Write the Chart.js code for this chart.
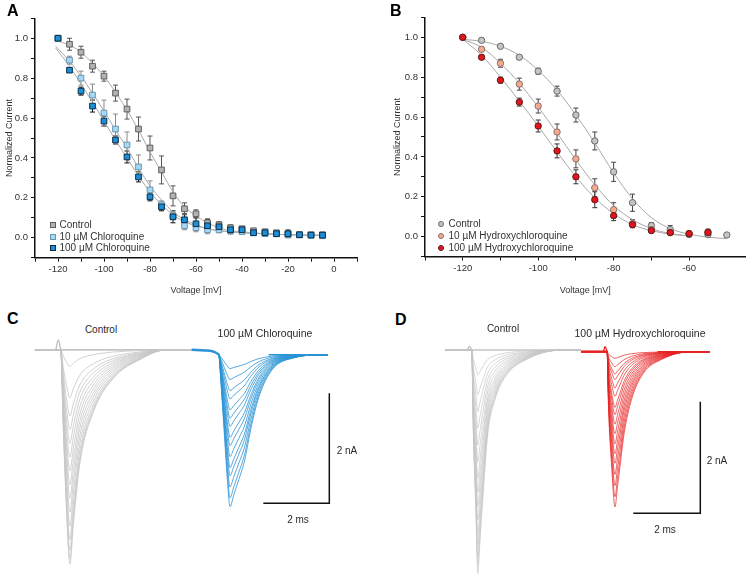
<!DOCTYPE html>
<html><head><meta charset="utf-8">
<script src="https://cdn.jsdelivr.net/npm/chart.js@4.4.0/dist/chart.umd.min.js"></script>
<style>
body{margin:0;width:753px;height:584px;position:relative;background:#fff;font-family:"Liberation Sans",Arial,sans-serif;overflow:hidden}
canvas{position:absolute}
.lbl{position:absolute;font-weight:bold;font-size:16px;color:#000;line-height:1}
.t{position:absolute;color:#2a2a2a;white-space:nowrap;line-height:1;transform:translate(-50%,-50%)}
.leg{position:absolute;font-size:10px;color:#333;white-space:nowrap;line-height:1;transform:translateY(-50%)}
.mk{position:absolute;box-sizing:border-box;transform:translate(-50%,-50%)}
</style></head>
<body>
<canvas id="cA" width="370" height="300" style="left:0;top:0;width:370px;height:300px"></canvas>
<canvas id="cB" width="378" height="300" style="left:375px;top:0;width:378px;height:300px"></canvas>
<canvas id="cC" width="320" height="240" style="left:30px;top:335px;width:320px;height:240px"></canvas>
<canvas id="cD" width="305" height="245" style="left:440px;top:335px;width:305px;height:245px"></canvas>

<div class="lbl" style="left:7px;top:3px">A</div>
<div class="lbl" style="left:390px;top:3px">B</div>
<div class="lbl" style="left:7px;top:311px">C</div>
<div class="lbl" style="left:395px;top:312px">D</div>

<div class="mk" style="left:53px;top:225px;width:6px;height:6px;background:#b3b3b3;border:1px solid #5e5e5e"></div>
<div class="leg" style="left:59.5px;top:225px">Control</div>
<div class="mk" style="left:53px;top:236.5px;width:6px;height:6px;background:#a6d9f5;border:1px solid #6a95b0"></div>
<div class="leg" style="left:59.5px;top:236.5px">10 µM Chloroquine</div>
<div class="mk" style="left:53px;top:248px;width:6px;height:6px;background:#1b8fd8;border:1px solid #0c2c44"></div>
<div class="leg" style="left:59.5px;top:248px">100 µM Chloroquine</div>

<div class="mk" style="left:440.7px;top:223.7px;width:6px;height:6px;border-radius:50%;background:#c4c4c4;border:1px solid #6b6b6b"></div>
<div class="leg" style="left:448.5px;top:223.7px">Control</div>
<div class="mk" style="left:440.7px;top:236px;width:6px;height:6px;border-radius:50%;background:#f5a98e;border:1px solid #8a7068"></div>
<div class="leg" style="left:448.5px;top:236px">10 µM Hydroxychloroquine</div>
<div class="mk" style="left:440.7px;top:247.7px;width:6px;height:6px;border-radius:50%;background:#e5131b;border:1px solid #5a1a1a"></div>
<div class="leg" style="left:448.5px;top:247.7px">100 µM Hydroxychloroquine</div>

<div class="t" style="left:101px;top:330px;font-size:10px">Control</div>
<div class="t" style="left:265px;top:333px;font-size:10.5px">100 µM Chloroquine</div>
<div class="t" style="left:347px;top:451px;font-size:10px">2 nA</div>
<div class="t" style="left:298px;top:520px;font-size:10px">2 ms</div>
<div class="t" style="left:503px;top:329px;font-size:10px">Control</div>
<div class="t" style="left:640px;top:333px;font-size:10.5px">100 µM Hydroxychloroquine</div>
<div class="t" style="left:717px;top:461px;font-size:10px">2 nA</div>
<div class="t" style="left:665px;top:530px;font-size:10px">2 ms</div>

<script>
// ---------- Panel A data (Voltage mV, normalized current) ----------
const voltA = [-120,-115,-110,-105,-100,-95,-90,-85,-80,-75,-70,-65,-60,-55,-50,-45,-40,-35,-30,-25,-20,-15,-10,-5];
const ctrlA = [1.0,0.97,0.93,0.86,0.81,0.725,0.645,0.545,0.45,0.34,0.21,0.145,0.12,0.075,0.065,0.05,0.045,0.035,0.03,0.025,0.02,0.015,0.015,0.015];
const ctrlAErr = [0,0.03,0.03,0.03,0.025,0.04,0.05,0.06,0.06,0.07,0.05,0.03,0.02,0.02,0.015,0.015,0.012,0.01,0.01,0.01,0.02,0.01,0.01,0.01];
const cq10A = [1.0,0.89,0.80,0.715,0.625,0.545,0.465,0.355,0.24,0.165,0.11,0.06,0.05,0.04,0.04,0.035,0.03,0.025,0.02,0.02,0.015,0.015,0.013,0.01];
const cq10AErr = [0,0.02,0.035,0.055,0.065,0.075,0.065,0.06,0.045,0.02,0.02,0.02,0.02,0.02,0.015,0.015,0.01,0.01,0.01,0.01,0.01,0.01,0.01,0.01];
const cq100A = [1.0,0.84,0.735,0.66,0.585,0.49,0.405,0.305,0.205,0.155,0.105,0.09,0.07,0.06,0.055,0.04,0.04,0.025,0.025,0.02,0.02,0.015,0.013,0.013];
const cq100AErr = [0,0.01,0.02,0.03,0.025,0.02,0.03,0.025,0.02,0.02,0.03,0.03,0.03,0.03,0.02,0.02,0.01,0.01,0.01,0.01,0.01,0.01,0.01,0.01];
const fitVoltA = [-121,-115,-110,-105,-100,-95,-90,-85,-80,-75,-70,-65,-60,-55,-50,-45,-40,-30,-20,-5];
const fitCtrlA = [0.99,0.965,0.93,0.875,0.81,0.73,0.64,0.54,0.43,0.33,0.23,0.155,0.11,0.075,0.05,0.035,0.03,0.02,0.015,0.012];
const fitCq10A = [0.96,0.885,0.81,0.725,0.635,0.54,0.45,0.35,0.26,0.19,0.13,0.09,0.065,0.045,0.035,0.03,0.025,0.02,0.015,0.012];
const fitCq100A = [0.95,0.86,0.77,0.68,0.585,0.49,0.40,0.31,0.23,0.165,0.115,0.08,0.06,0.045,0.035,0.03,0.025,0.02,0.015,0.012];

// ---------- Panel B data ----------
const voltB = [-120,-115,-110,-105,-100,-95,-90,-85,-80,-75,-70,-65,-60,-55,-50];
const ctrlB = [1.0,0.985,0.955,0.90,0.83,0.73,0.61,0.48,0.325,0.17,0.055,0.035,0.01,0.01,0.008];
const ctrlBErr = [0,0.005,0.008,0.01,0.015,0.025,0.035,0.045,0.048,0.043,0.015,0.02,0.01,0.01,0];
const hcq10B = [1.0,0.94,0.87,0.765,0.655,0.525,0.39,0.245,0.135,0.065,0.035,0.02,0.015,0.025];
const hcq10BErr = [0,0.005,0.02,0.03,0.035,0.04,0.045,0.045,0.035,0.02,0.01,0.01,0.005,0.01];
const hcq100B = [1.0,0.90,0.785,0.675,0.555,0.43,0.30,0.185,0.105,0.06,0.03,0.02,0.015,0.02];
const hcq100BErr = [0,0.008,0.015,0.02,0.03,0.035,0.035,0.04,0.025,0.015,0.01,0.01,0.005,0.015];
const fitVoltB = [-120,-115,-110,-105,-100,-95,-90,-85,-80,-75,-70,-65,-60,-55,-50];
const fitCtrlB = [0.99,0.98,0.955,0.91,0.835,0.735,0.61,0.47,0.32,0.19,0.095,0.04,0.012,-0.003,-0.01];
const fitHcq10B = [0.99,0.95,0.87,0.77,0.65,0.52,0.385,0.26,0.155,0.085,0.04,0.015,0.003];
const fitHcq100B = [0.99,0.91,0.80,0.68,0.555,0.425,0.30,0.195,0.115,0.06,0.03,0.012,0.003];

// ---------- Panel C traces (ms, nA) ----------
const ctrlCAmp = [0.3,0.87,1.2,1.45,1.7,1.95,2.2,2.45,2.7,2.95,3.2,3.45,3.65,3.8,3.9];
const ctrlCShapeT = [0,0.08,0.18,0.28,0.38,0.58,0.99,1.58,2.4,3.2];
const ctrlCShape = [0,0.37,0.76,1.0,0.82,0.53,0.29,0.135,0.045,0];
const cqCAmp = [0.25,0.45,0.65,0.8,1.0,1.15,1.3,1.5,1.65,1.85,2.05,2.2,2.4,2.6,2.76];
const cqCShapeT = [0,0.05,0.15,0.25,0.33,0.45,0.6,0.77,0.96,1.21,1.6,2.27,3.2];
const cqCShape = [0,0.16,0.49,0.82,1.0,0.92,0.82,0.7,0.49,0.275,0.1,0.02,0];
const cTimes = {ctrlStart:0.15, ctrlOnset:0.93, ctrlEnd:4.9, cqOnset:5.73, cqEnd:9.03};
const cBase = {ctrl:0, cq:-0.09};

// ---------- Panel D traces (ms, nA) ----------
const ctrlDAmp = [0.45,0.8,1.1,1.4,1.7,2.0,2.3,2.55,2.8,3.05,3.3,3.5,3.7,3.85,4.0];
const ctrlDShapeT = [0,0.05,0.13,0.18,0.25,0.33,0.48,0.7,1.0,1.6,2.7];
const ctrlDShape = [0,0.375,0.75,1.0,0.85,0.67,0.375,0.22,0.12,0.045,0];
const hcqDAmp = [0.12,0.27,0.4,0.5,0.65,0.8,1.0,1.13,1.3,1.47,1.65,1.83,2.0,2.2,2.4,2.6,2.78];
const hcqDShapeT = [0,0.03,0.13,0.23,0.3,0.38,0.5,0.72,1.07,1.62,2.5];
const hcqDShape = [0,0.31,0.74,1.0,0.88,0.74,0.53,0.31,0.14,0.05,0];
const dTimes = {ctrlStart:0.149, ctrlOnset:0.946, ctrlEnd:4.209, hcqOnset:4.994, hcqEnd:8.06};
const dBase = {ctrl:0, hcq:-0.03};

const scaleBarMs = 2, scaleBarNA = 2;

// ---------- helpers ----------
const pts = (xs, ys) => ys.map((y, i) => ({x: xs[i], y}));
function trace(start, onset, end, base, amp, shapeT, shape) {
  const d = [];
  if (start < onset) d.push({x:start, y:base});
  shapeT.forEach((t, i) => d.push({x: onset + t, y: base - amp * shape[i]}));
  if (end > d[d.length-1].x) d.push({x:end, y:base});
  return d;
}

const errorBars = {
  id: 'errorBars',
  beforeDatasetsDraw(chart) {
    const {ctx} = chart, x = chart.scales.x, y = chart.scales.y;
    chart.data.datasets.forEach(ds => {
      if (!ds.errors) return;
      ctx.save();
      ctx.strokeStyle = ds.errorColor; ctx.lineWidth = 1;
      ds.data.forEach((p, j) => {
        const e = ds.errors[j]; if (!e) return;
        const px = x.getPixelForValue(p.x), y1 = y.getPixelForValue(p.y - e), y2 = y.getPixelForValue(p.y + e);
        ctx.beginPath();
        ctx.moveTo(px, y1); ctx.lineTo(px, y2);
        ctx.moveTo(px - 2.5, y1); ctx.lineTo(px + 2.5, y1);
        ctx.moveTo(px - 2.5, y2); ctx.lineTo(px + 2.5, y2);
        ctx.stroke();
      });
      ctx.restore();
    });
  }
};

const tickFont = {family:'"Liberation Sans", Arial, sans-serif', size:9.5};
const titleFont = {family:'"Liberation Sans", Arial, sans-serif', size:9};
function filterStep(step) {
  return s => { s.ticks = s.ticks.filter(t => Math.abs(t.value/step - Math.round(t.value/step)) < 1e-6); };
}
function ivChart(id, xmin, xmax, datasets, yWidth, xHeight, pad, yTitlePad) {
  new Chart(document.getElementById(id), {
    type: 'scatter',
    data: {datasets},
    options: {
      responsive:false, animation:false, events:[],
      layout:{padding:pad},
      plugins:{legend:{display:false}, tooltip:{enabled:false}},
      scales:{
        x:{type:'linear', min:xmin, max:xmax,
          afterBuildTicks: filterStep(10),
          afterFit: s => { s.height = xHeight; },
          ticks:{stepSize:10, autoSkip:false, maxRotation:0, padding:2, color:'#333', font:tickFont,
            callback: v => (Math.round(v) % 20 === 0 ? String(Math.round(v)) : '')},
          grid:{drawOnChartArea:false, drawTicks:true, tickLength:4, tickColor:'#111', tickWidth:1},
          border:{display:true, color:'#111', width:1.5},
          title:{display:true, text:'Voltage [mV]', color:'#333', font:titleFont, padding:{top:4,bottom:4}}},
        y:{type:'linear', min:-0.1, max:1.1,
          afterBuildTicks: filterStep(0.1),
          afterFit: s => { s.width = yWidth; },
          ticks:{stepSize:0.1, autoSkip:false, padding:3, color:'#333', font:tickFont,
            callback: v => { const k = Math.round(v*10); return k % 2 === 0 ? (k/10).toFixed(1) : ''; }},
          grid:{drawOnChartArea:false, drawTicks:true, tickLength:4, tickColor:'#111', tickWidth:1},
          border:{display:true, color:'#111', width:1.5},
          title:{display:true, text:'Normalized Current', color:'#333', font:titleFont, padding:{top:yTitlePad,bottom:4}}}
      }
    },
    plugins:[errorBars]
  });
}
function markers(data, errors, style, fill, border, errColor, r) {
  return {data, errors, errorColor:errColor, pointStyle:style, pointRadius:r, pointBackgroundColor:fill,
    pointBorderColor:border, pointBorderWidth:1, showLine:false, clip:false};
}
function fit(data) {
  return {data, showLine:true, pointRadius:0, borderColor:'#a8a8a8', borderWidth:1,
    cubicInterpolationMode:'monotone', clip:false};
}

// Panel A
ivChart('cA', -130, 10, [
  markers(pts(voltA, cq100A), cq100AErr, 'rect', '#1b8fd8', '#0c2c44', '#111', 4),
  markers(pts(voltA, cq10A), cq10AErr, 'rect', '#a6d9f5', '#6a95b0', '#8a8a8a', 4),
  markers(pts(voltA, ctrlA), ctrlAErr, 'rect', '#b3b3b3', '#5e5e5e', '#555', 4),
  fit(pts(fitVoltA, fitCtrlA)), fit(pts(fitVoltA, fitCq10A)), fit(pts(fitVoltA, fitCq100A))
], 35, 42.3, {top:18.3, right:13, left:0, bottom:0}, 4);

// Panel B
ivChart('cB', -130, -45, [
  markers(pts(voltB, hcq100B), hcq100BErr, 'circle', '#e5131b', '#5a1a1a', '#333', 3.2),
  markers(pts(voltB, hcq10B), hcq10BErr, 'circle', '#f5a98e', '#8a7068', '#444', 3.2),
  markers(pts(voltB, ctrlB), ctrlBErr, 'circle', '#c4c4c4', '#6b6b6b', '#444', 3.2),
  fit(pts(fitVoltB, fitCtrlB)), fit(pts(fitVoltB, fitHcq10B)), fit(pts(fitVoltB, fitHcq100B))
], 50, 43.5, {top:17.4, right:7.3, left:0, bottom:0}, 17.6);

// Trace charts
function line(data, color, width) {
  return {data, showLine:true, pointRadius:0, borderColor:color, borderWidth:width,
    cubicInterpolationMode:'monotone', clip:false};
}
function traceChart(id, xmax, ymin, ymax, datasets) {
  new Chart(document.getElementById(id), {
    type:'scatter', data:{datasets},
    options:{responsive:false, animation:false, events:[], layout:{padding:0},
      plugins:{legend:{display:false}, tooltip:{enabled:false}},
      scales:{x:{type:'linear', display:false, min:0, max:xmax}, y:{display:false, min:ymin, max:ymax}}}
  });
}

// Panel C
{
  const ds = [];
  const sbX = 7.07, sbY = -2.79;
  ds.push(line([{x:sbX, y:sbY}, {x:sbX+scaleBarMs, y:sbY}, {x:sbX+scaleBarMs, y:sbY+scaleBarNA}], '#111', 1.5));
  ds.push(line([{x:cTimes.ctrlEnd, y:cBase.ctrl}, {x:5.3, y:-0.01}, {x:5.6, y:-0.04}, {x:cTimes.cqOnset, y:cBase.cq}], '#2a93d5', 2.5));
  ds.push(line([{x:cTimes.cqOnset+1.5, y:cBase.cq}, {x:cTimes.cqEnd, y:cBase.cq}], '#2a93d5', 1.5));
  cqCAmp.forEach(a => ds.push(line(trace(cTimes.cqOnset, cTimes.cqOnset, cTimes.cqEnd, cBase.cq, a, cqCShapeT, cqCShape), '#2a93d5', 0.8)));
  ds.push(line([{x:0.78, y:0}, {x:0.86, y:0.18}, {x:cTimes.ctrlOnset, y:0}], '#bdbdbd', 1.3));
  ds.push(line([{x:cTimes.ctrlStart, y:0}, {x:cTimes.ctrlEnd, y:0}], '#c4c4c4', 1.6));
  ctrlCAmp.forEach(a => ds.push(line(trace(cTimes.ctrlStart, cTimes.ctrlOnset, cTimes.ctrlEnd, cBase.ctrl, a, ctrlCShapeT, ctrlCShape), '#c6c6c6', 0.8)));
  traceChart('cC', 320/33, 0.27 - 240/55, 0.27, ds);
}

// Panel D
{
  const ds = [];
  const sbX = 5.77, sbY = -2.926;
  ds.push(line([{x:sbX, y:sbY}, {x:sbX+scaleBarMs, y:sbY}, {x:sbX+scaleBarMs, y:sbY+scaleBarNA}], '#111', 1.5));
  ds.push(line([{x:dTimes.ctrlEnd, y:dBase.hcq}, {x:dTimes.hcqOnset, y:dBase.hcq}], '#e8201f', 2.5));
  ds.push(line([{x:4.88, y:dBase.hcq}, {x:4.925, y:0.06}, {x:dTimes.hcqOnset, y:dBase.hcq}], '#e8201f', 1.3));
  ds.push(line([{x:dTimes.hcqOnset+1.5, y:dBase.hcq}, {x:dTimes.hcqEnd, y:dBase.hcq}], '#e8201f', 1.5));
  hcqDAmp.forEach(a => ds.push(line(trace(dTimes.hcqOnset, dTimes.hcqOnset, dTimes.hcqEnd, dBase.hcq, a, hcqDShapeT, hcqDShape), '#e8201f', 0.7)));
  ds.push(line([{x:0.82, y:0}, {x:0.875, y:0.07}, {x:dTimes.ctrlOnset, y:0}], '#bdbdbd', 1.3));
  ds.push(line([{x:dTimes.ctrlStart, y:0}, {x:dTimes.ctrlEnd, y:0}], '#c4c4c4', 1.6));
  ctrlDAmp.forEach(a => ds.push(line(trace(dTimes.ctrlStart, dTimes.ctrlOnset, dTimes.ctrlEnd, dBase.ctrl, a, ctrlDShapeT, ctrlDShape), '#c6c6c6', 0.7)));
  traceChart('cD', 305/33.5, 0.269 - 245/55.8, 0.269, ds);
}
</script>
</body></html>
